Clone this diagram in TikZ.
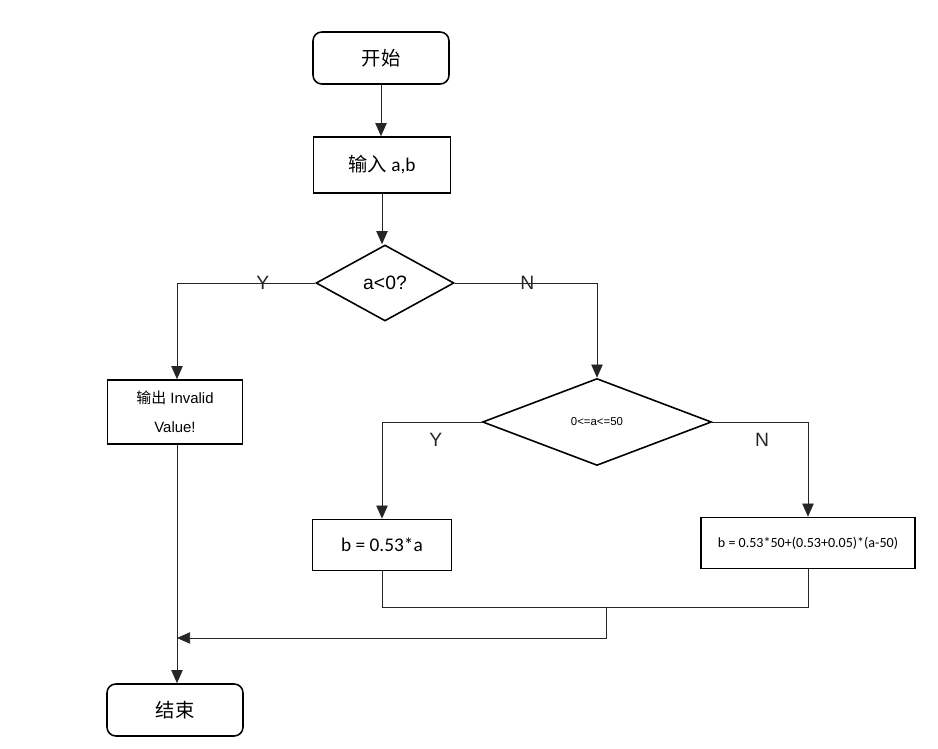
\documentclass[tikz,border=0pt]{standalone}
\usepackage{fontspec}
\setmainfont{Carlito}
\newfontfamily\cjk{Noto Sans CJK SC}
\newfontfamily\arial{Liberation Sans}
\usetikzlibrary{shapes.geometric,arrows.meta}
\begin{document}
\begin{tikzpicture}[x=0.02cm,y=-0.02cm,
    box/.style={draw,line width=.9pt,inner sep=2pt,align=center},
    term/.style={box,rounded corners=5pt,minimum width=2.72cm,minimum height=1.04cm},
    test/.style={draw,line width=.9pt,diamond,aspect=2,inner sep=0pt},
    arr/.style={-{Triangle[width=6.5pt,length=7.5pt]},black!85,line width=.5pt},
    lin/.style={black!85,line width=.5pt},
    lab/.style={font=\arial\fontsize{11}{13}\selectfont,inner sep=0pt}]
  \useasboundingbox (0,0) rectangle (938,749);
  % nodes
  \node[term,font=\cjk\fontsize{11}{13}\selectfont] (start) at (381,58) {开始};
  \node[box,minimum width=2.74cm,minimum height=1.12cm,
        font=\fontsize{11}{13}\selectfont] (input) at (382,165) {{\cjk 输入} a,b};
  \node[test,minimum width=2.76cm,minimum height=1.52cm,
        font=\arial\fontsize{11}{13}\selectfont] (d1) at (385,283) {a<0?};
  \node[box,minimum width=2.7cm,minimum height=1.28cm,
        font=\arial\fontsize{8.5}{16.5}\selectfont] (out) at (175,412)
        {{\cjk 输出} Invalid\\Value!};
  \node[test,minimum width=4.58cm,minimum height=1.74cm,
        font=\arial\fontsize{6.5}{7}\selectfont] (d2) at (597,422) {0<=a<=50};
  \node[box,minimum width=2.78cm,minimum height=1.02cm,
        font=\fontsize{11}{13}\selectfont] (b1) at (382,545) {b = 0.53*a};
  \node[box,minimum width=4.28cm,minimum height=1.02cm,
        font=\fontsize{8}{9}\selectfont] (b2) at (808,543)
        {b = 0.53*50+(0.53+0.05)*(a-50)};
  \node[term,font=\cjk\fontsize{11}{13}\selectfont] (end) at (175,710) {结束};
  \coordinate (m1) at (382,607);
  \coordinate (m2) at (808,607);
  \coordinate (mid) at (606,607);
  \coordinate (j) at (177,638);
  % connectors
  \draw[arr] (start) -- (start |- input.north);
  \draw[arr] (input) -- (input |- d1.north);
  \draw[arr] (d1.west) -| node[lab,pos=.19] {Y} (out.north -| j);
  \draw[arr] (d1.east) -| node[lab,pos=.255] {N} (d2.north);
  \draw[arr] (d2.west) -| node[lab,pos=.23,yshift=-10pt] {Y} (b1.north);
  \draw[arr] (d2.east) -| node[lab,pos=.26,yshift=-10pt] {N} (b2.north);
  \draw[lin] (b1.south) -- (m1) -- (m2) -- (b2.south);
  \draw[arr] (mid) |- (j);
  \draw[arr] (out.south -| j) -- (end.north -| j);
\end{tikzpicture}
\end{document}
